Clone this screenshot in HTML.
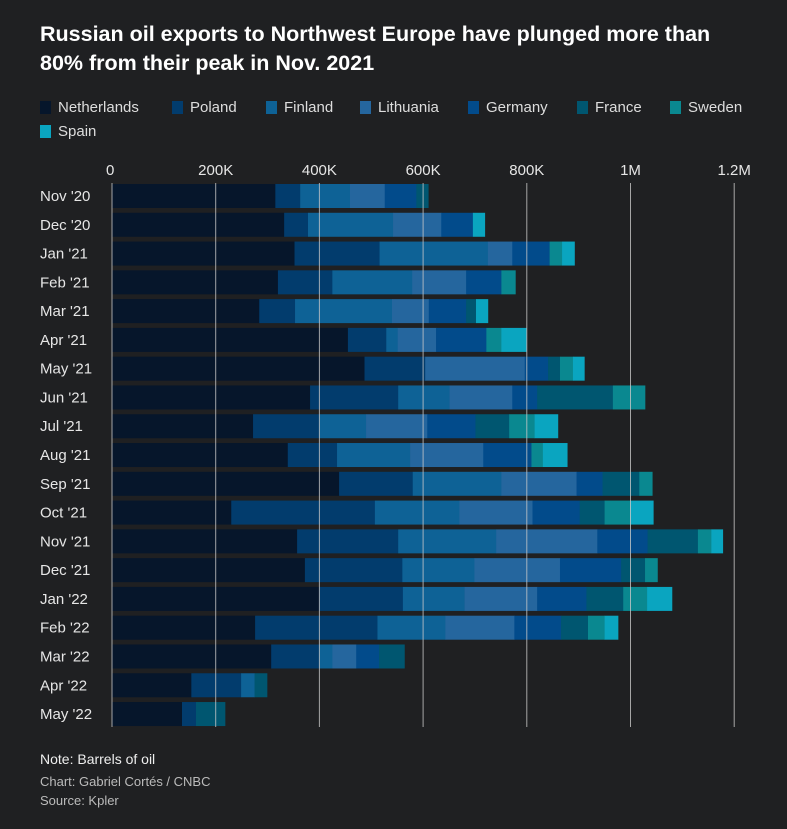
<!DOCTYPE html>
<html><head><meta charset="utf-8"><style>
body{margin:0;background:#1f2022;width:787px;height:829px;overflow:hidden;font-family:"Liberation Sans",sans-serif;color:#e6e6e6}
.t{position:absolute;left:40px;top:20px;font-size:21.5px;font-weight:bold;color:#fff;line-height:29px;width:700px}
.lg{position:absolute;font-size:15px;color:#ddd;display:flex;align-items:center}
.lg i{display:inline-block;width:11px;height:13px;margin-right:7px}
.n{position:absolute;left:40px;font-size:13px;color:#bbb}
</style></head><body>
<div class="t">Russian oil exports to Northwest Europe have plunged more than 80% from their peak in Nov. 2021</div>
<div id="legend"></div>
<svg id="c" width="787" height="829" style="position:absolute;left:0;top:0"></svg>
<div class="n" style="top:751px;color:#eee;font-size:14px">Note: Barrels of oil</div>
<div class="n" style="top:774px">Chart: Gabriel Cortés / CNBC</div>
<div class="n" style="top:793px">Source: Kpler</div>
<script>
const months=["Nov '20","Dec '20","Jan '21","Feb '21","Mar '21","Apr '21","May '21","Jun '21","Jul '21","Aug '21","Sep '21","Oct '21","Nov '21","Dec '21","Jan '22","Feb '22","Mar '22","Apr '22","May '22"];
const countries=["Netherlands","Poland","Finland","Lithuania","Germany","France","Sweden","Spain"];
const netherlands=[315,332,352,320,284,455,487,382,272,339,438,230,357,372,400,276,307,153,135];
const poland=[48,46,164,105,69,74,117,170,128,95,142,277,195,188,161,236,93,96,27];
const finland=[96,164,209,154,187,22,0,99,90,141,171,163,189,139,119,131,25,26,0];
const lithuania=[67,93,47,104,71,74,192,121,118,141,145,141,195,165,140,133,46,0,0];
const germany=[61,61,72,68,72,97,45,48,93,93,50,91,97,118,95,90,44,0,0];
const france=[23,0,0,0,19,0,23,146,65,0,71,48,97,46,71,52,49,24,56];
const sweden=[0,0,24,27,0,29,25,62,49,22,25,49,26,24,46,32,0,0,0];
const spain=[0,23,24,0,23,48,22,0,45,47,0,45,22,0,48,26,0,0,0];
const ticks=[0,200,400,600,800,1000,1200];
const tickLabels=["0","200K","400K","600K","800K","1M","1.2M"];
const series=[netherlands,poland,finland,lithuania,germany,france,sweden,spain];
const colors=["#06162b","#023c6d","#0e6296","#25669e","#024b8b","#005670","#0a8890","#0aa5c0"];
const x=v=>112+v*0.5185;
const y=i=>196+i*28.78;
const NS="http://www.w3.org/2000/svg",svg=document.getElementById('c');
function mk(t,a){const e=document.createElementNS(NS,t);for(const k in a)e.setAttribute(k,a[k]);svg.appendChild(e);return e;}
months.forEach((m,i)=>{let acc=0;series.forEach((s,j)=>{if(s[i]>0){
const r=mk('rect',{x:x(acc),y:y(i)-12,width:s[i]*0.5185+0.3,height:24,fill:colors[j]});

}acc+=s[i];});
const t=mk('text',{x:40,y:y(i)+5,fill:'#e6e6e6','font-size':15});t.textContent=m;

});
ticks.forEach((v,i)=>{const l=mk('line',{x1:x(v),x2:x(v),y1:183,y2:727,stroke:'#c8c8c8','stroke-width':1,opacity:0.8});


const t=mk('text',{x:x(v),y:175,fill:'#e6e6e6','font-size':15,'text-anchor':i==0?'start':'middle'});t.textContent=tickLabels[i];
if(i==0)t.setAttribute('x',x(v)-6);

});
const lp=[[40,99],[172,99],[266,99],[360,99],[468,99],[577,99],[670,99],[40,123]];
const lg=document.getElementById('legend');
countries.forEach((c,j)=>{const d=document.createElement('div');d.className='lg';d.style.left=lp[j][0]+'px';d.style.top=lp[j][1]+'px';
d.innerHTML='<i style="background:'+colors[j]+'"></i>'+c;


lg.appendChild(d);});
</script>
</body></html>
